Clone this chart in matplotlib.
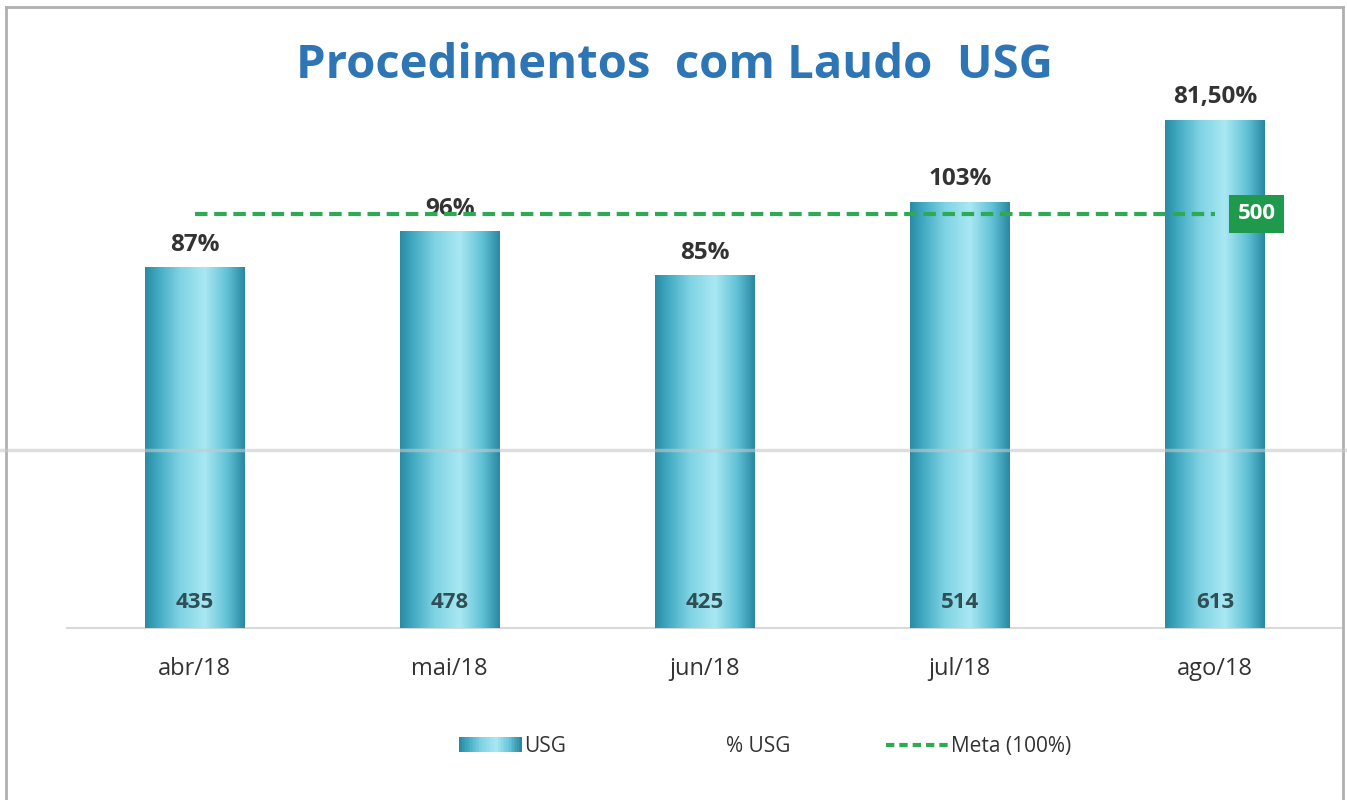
import numpy as np
import matplotlib
matplotlib.use('Agg')
import matplotlib.pyplot as plt
from matplotlib.colors import LinearSegmentedColormap
from matplotlib.lines import Line2D
from matplotlib.patches import Rectangle
from matplotlib.legend_handler import HandlerBase

plt.rcParams['font.family'] = ['Open Sans', 'DejaVu Sans']

# Data
meses = ['abr/18', 'mai/18', 'jun/18', 'jul/18', 'ago/18']
usg = [435, 478, 425, 514, 613]
pct_usg = ['87%', '96%', '85%', '103%', '81,50%']
meta = [500, 500, 500, 500, 500]

BAR_W = 0.39
cmap = LinearSegmentedColormap.from_list('cyl', [
    (0.0, '#2a8aa3'), (0.12, '#3fa8c0'), (0.35, '#7fd3e4'),
    (0.6, '#a9e8f3'), (0.82, '#62c2d6'), (1.0, '#2888a2')])
grad = np.linspace(0, 1, 256).reshape(1, -1)

fig = plt.figure(figsize=(13.47, 8), dpi=100)
ax = fig.add_axes([0.0497, 0.215, 0.947, 0.725])

x = np.arange(len(meses))
for xi, v in zip(x, usg):
    ax.imshow(grad, cmap=cmap, aspect='auto', interpolation='bicubic',
              extent=[xi - BAR_W / 2, xi + BAR_W / 2, 0, v], zorder=2)
    ax.text(xi, 31, str(v), ha='center', va='center', fontsize=16,
            fontweight='bold', color='#2f4f55', zorder=4)

for xi, v, p in zip(x, usg, pct_usg):
    ax.text(xi, v + 13, p, ha='center', va='bottom', fontsize=17.5,
            fontweight='bold', color='#333333', zorder=3)

ax.plot(x, meta, color='#2eaa55', lw=3, ls=(0, (3, 1.6)), zorder=5)
ax.text(x[-1] + 0.163, meta[-1], str(meta[-1]), ha='center', va='center',
        fontsize=16, fontweight='bold', color='white', zorder=6,
        bbox=dict(boxstyle='square,pad=0.38', fc='#1f9a4c', ec='none'))

ax.set_xlim(-0.5, 4.5)
ax.set_ylim(0, 700)
ax.set_xticks(x)
ax.set_xticklabels(meses, fontsize=17, color='#333333')
ax.tick_params(axis='x', length=0, pad=21)
ax.set_yticks([])
for s in ['top', 'right', 'left']:
    ax.spines[s].set_visible(False)
ax.spines['bottom'].set_color('#d9d9d9')
ax.spines['bottom'].set_linewidth(1.5)
ax.spines['bottom'].set_zorder(1)

fig.text(0.501, 0.918, 'Procedimentos  com Laudo  USG', ha='center',
         va='center', fontsize=34, fontweight='bold', color='#2e75b6')


class GradHandler(HandlerBase):
    def create_artists(self, legend, orig, xd, yd, w, h, fs, trans):
        arts = []
        n = 40
        for i in range(n):
            c = cmap(i / (n - 1))
            r = Rectangle((xd + w * i / n, yd), w / n + 0.5, h, fc=c, ec='none',
                          transform=trans)
            arts.append(r)
        return arts


h_usg = Rectangle((0, 0), 1, 1)
h_pct = Line2D([], [], color='none')
h_meta = Line2D([], [], color='#2eaa55', lw=3, ls=(0, (2, 1.2)))
fig.legend([h_usg, h_pct, h_meta], ['USG', '% USG', 'Meta (100%)'],
           handler_map={h_usg: GradHandler()}, loc='center',
           bbox_to_anchor=(0.568, 0.067), ncol=3, frameon=False, fontsize=15,
           handlelength=3.0, columnspacing=4.6, handletextpad=0.1,
           labelcolor='#333333')

# frame of the scanned chart and scan line
fig.add_artist(Line2D([0.0045, 0.997], [0.991, 0.991], color='#b0b0b0', lw=2))
fig.add_artist(Line2D([0.0045, 0.0045], [0.0, 0.991], color='#b0b0b0', lw=2))
fig.add_artist(Line2D([0.997, 0.997], [0.0, 0.991], color='#b0b0b0', lw=2))
fig.add_artist(Line2D([0.0, 1.0], [0.437, 0.437], color='#c8c8c8', lw=2.5, zorder=10, alpha=0.6))

fig.savefig('out.png', dpi=100)
